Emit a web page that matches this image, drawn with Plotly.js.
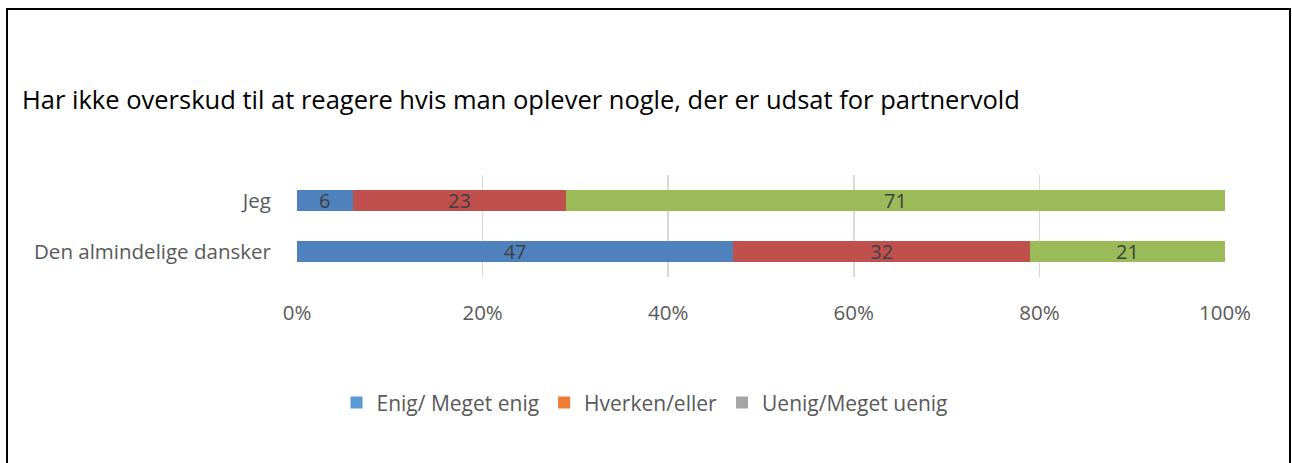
<!DOCTYPE html>
<html>
<head>
<meta charset="utf-8">
<script src="https://cdn.plot.ly/plotly-3.0.1.min.js"></script>
<style>
  html, body { margin: 0; padding: 0; background: #fff; }
  #wrap { position: relative; width: 1292px; height: 463px; overflow: hidden; }
  #chart { width: 1292px; height: 463px; }
  #frame { position: absolute; left: 6px; top: 8px; width: 1285px; height: 480px;
           border: 2.5px solid #000; box-sizing: border-box; pointer-events: none; }
</style>
</head>
<body>
<div id="wrap">
  <div id="chart"></div>
  <div id="frame"></div>
</div>
<script>
const chartTitle = 'Har ikke overskud til at reagere hvis man oplever nogle, der er udsat for partnervold';
const categories = ['Jeg', 'Den almindelige dansker'];
const seriesNames = ['Enig/ Meget enig', 'Hverken/eller', 'Uenig/Meget uenig'];
const enig = [6, 47];
const hverken = [23, 32];
const uenig = [71, 21];
const tickVals = [0, 20, 40, 60, 80, 100];
const tickLabels = ['0%', '20%', '40%', '60%', '80%', '100%'];

const barColors = ['#4F81BD', '#C0504D', '#9BBB59'];
const legendColors = ['#5B9BD5', '#ED7D31', '#A5A5A5'];
const FONT = 'Open Sans, sans-serif';

const seriesValues = [enig, hverken, uenig];
const traces = [];
seriesValues.forEach((vals, i) => {
  traces.push({
    type: 'bar', orientation: 'h',
    x: vals, y: categories,
    name: seriesNames[i],
    marker: { color: barColors[i] },
    text: vals.map(String),
    textposition: 'inside',
    insidetextanchor: 'middle',
    textangle: 0,
    constraintext: 'none',
    textfont: { family: FONT, size: 20, color: '#404040' },
    showlegend: false,
    hoverinfo: 'x+y+name'
  });
});
// legend entries (the original legend uses a different palette than the bars)
seriesNames.forEach((n, i) => {
  traces.push({
    type: 'bar', orientation: 'h',
    x: [null], y: [null],
    name: n,
    marker: { color: legendColors[i] },
    showlegend: true,
    hoverinfo: 'skip'
  });
});

const layout = {
  width: 1292, height: 463,
  margin: { l: 297, r: 67, t: 175, b: 186 },
  paper_bgcolor: '#ffffff', plot_bgcolor: '#ffffff',
  barmode: 'stack',
  bargap: 0.6,
  font: { family: FONT, color: '#595959' },
  title: {
    text: chartTitle,
    font: { family: FONT, size: 25.5, color: '#000000' },
    xref: 'container', yref: 'container',
    x: 22 / 1292, xanchor: 'left',
    y: 1 - 100 / 463, yanchor: 'middle'
  },
  xaxis: {
    range: [0, 100],
    tickvals: tickVals, ticktext: tickLabels,
    showgrid: true, gridcolor: '#D9D9D9', gridwidth: 1.5,
    zeroline: false, showline: false,
    ticks: 'outside', ticklen: 17, tickcolor: 'rgba(0,0,0,0)',
    tickfont: { family: FONT, size: 20.5, color: '#595959' },
    fixedrange: true
  },
  yaxis: {
    type: 'category',
    categoryorder: 'array', categoryarray: categories,
    autorange: 'reversed',
    showgrid: false, zeroline: false, showline: false,
    ticks: 'outside', ticklen: 21, tickcolor: 'rgba(0,0,0,0)',
    tickfont: { family: FONT, size: 20.5, color: '#595959' },
    fixedrange: true
  },
  showlegend: true,
  legend: {
    orientation: 'h',
    x: (645 - 297) / 928, xanchor: 'center',
    y: -1.235, yanchor: 'middle',
    font: { family: FONT, size: 21, color: '#595959' },
    itemwidth: 30,
    traceorder: 'normal'
  }
};

Plotly.newPlot('chart', traces, layout, { displayModeBar: false, staticPlot: true });
</script>
</body>
</html>
